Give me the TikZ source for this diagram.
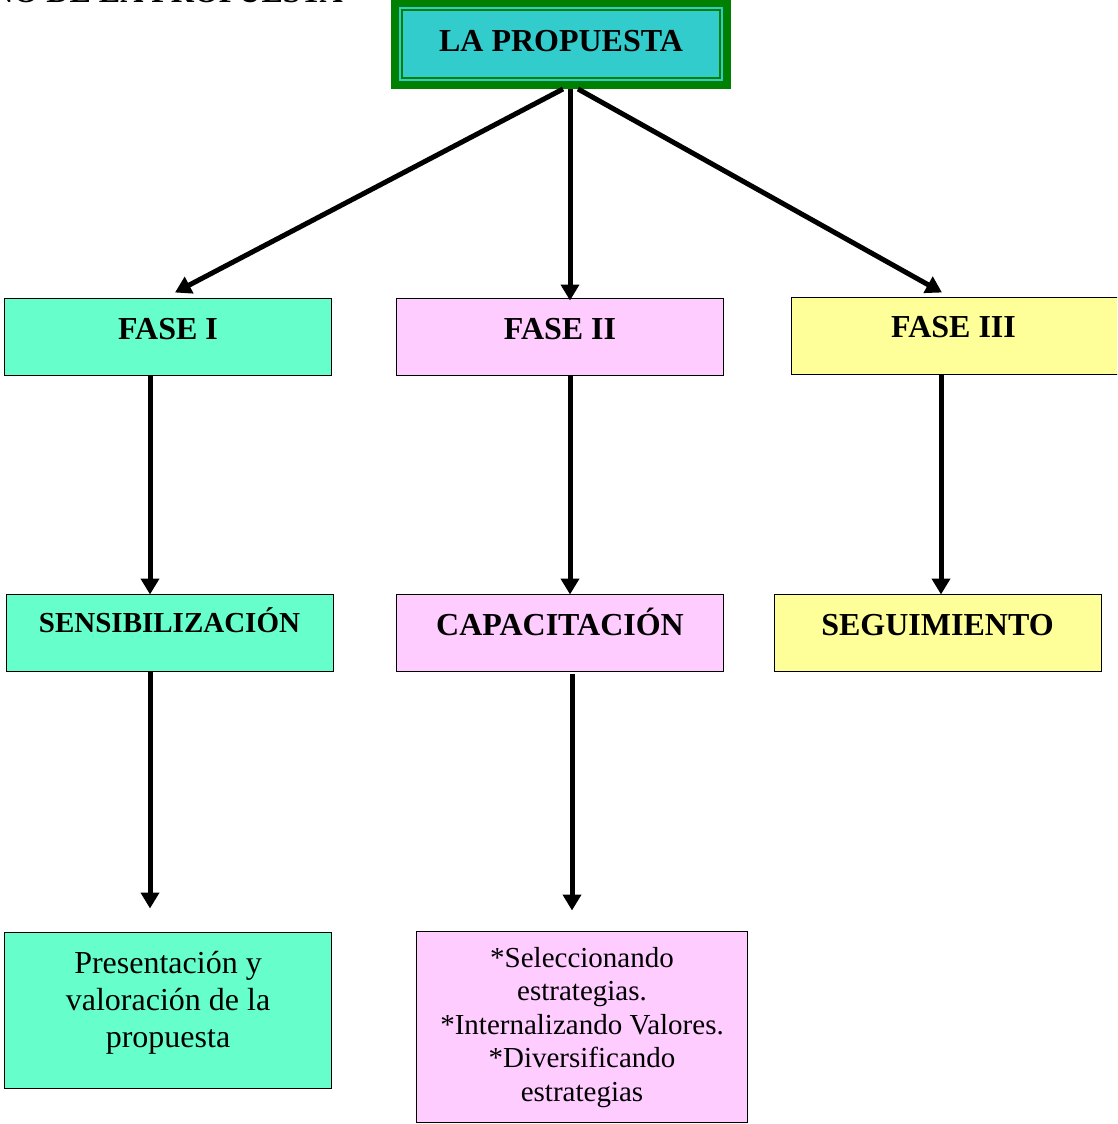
\documentclass[tikz,border=0pt]{standalone}
\usepackage{fontspec}
\setmainfont{Liberation Serif}
\usetikzlibrary{arrows.meta}
\definecolor{topcyan}{HTML}{33CCCC}
\definecolor{topgreen}{HTML}{008000}
\definecolor{mint}{HTML}{66FFCC}
\definecolor{pinkbox}{HTML}{FFCCFF}
\definecolor{yellowbox}{HTML}{FFFF99}
\tikzset{
  phasebox/.style={draw=black, line width=1.5pt, minimum width=327pt, minimum height=77pt, inner sep=0pt, outer sep=0pt},
  hdr/.style={font=\fontsize{32}{38}\selectfont\bfseries, inner sep=0pt, anchor=base},
  body/.style={inner sep=0pt, anchor=base, align=center},
  arr/.style={line width=5pt, -{Triangle[width=18pt,length=16pt]}},
}
\begin{document}
\begin{tikzpicture}[x=1pt,y=-1pt]
\clip (0,0) rectangle (1117,1124);
\useasboundingbox (0,0) rectangle (1117,1124);

% title (cut at top of page)
\node[hdr, anchor=base east] (title) at (343,3) {NO DE LA PROPUESTA};

% top box
\node[fill=topcyan, draw=topgreen, line width=8pt, minimum width=332pt, minimum height=81.5pt, inner sep=0pt, outer sep=0pt] (top) at (561,44.25) {};
\draw[topgreen, line width=2pt] ([shift={(7,7)}]top.north west) rectangle ([shift={(-7,-7)}]top.south east);
\node[hdr] (toptxt) at (561,52) {LA PROPUESTA};

% phase boxes
\node[phasebox, fill=mint] (f1) at (168,337) {};
\node[hdr] (f1t) at (168,339) {FASE I};
\node[phasebox, fill=pinkbox] (f2) at (560,337) {};
\node[hdr] (f2t) at (560,339) {FASE II};
\node[phasebox, fill=yellowbox] (f3) at (955,336) {};
\node[hdr] (f3t) at (953.5,337) {FASE III};

% second row
\node[phasebox, fill=mint] (s1) at (170,633) {};
\node[hdr, font=\fontsize{29}{35}\selectfont\bfseries] (s1t) at (169.5,632) {SENSIBILIZACIÓN};
\node[phasebox, fill=pinkbox] (s2) at (560,633) {};
\node[hdr] (s2t) at (560,635) {CAPACITACIÓN};
\node[phasebox, fill=yellowbox] (s3) at (938,633) {};
\node[hdr] (s3t) at (937.5,635) {SEGUIMIENTO};

% third row
\node[phasebox, fill=mint, minimum height=156pt] (p1) at (168,1010.5) {};
\node[body, font=\fontsize{32}{37}\selectfont] (p1t) at (168,1047) {Presentación y\\valoración de la\\propuesta};
\node[phasebox, fill=pinkbox, minimum width=331pt, minimum height=191pt] (p2) at (582,1027) {};
\node[body, font=\fontsize{29}{33.5}\selectfont] (p2t) at (582,1101) {*Seleccionando\\estrategias.\\*Internalizando Valores.\\*Diversificando\\estrategias};

% connectors
\draw[arr] ([xshift=2pt,yshift=-4pt]top.south) -- ([xshift=7pt,yshift=6pt]f1.north);
\draw[arr] ([xshift=9pt,yshift=-4pt]top.south) -- ([xshift=10pt,yshift=-2pt]f2.north);
\draw[arr] ([xshift=17pt,yshift=-4pt]top.south) -- ([xshift=-13pt,yshift=5pt]f3.north);

\draw[arr] ([xshift=-18pt]f1.south) -- ([xshift=-18pt]f1.south |- s1.north);
\draw[arr] ([xshift=10pt]f2.south) -- ([xshift=10pt]f2.south |- s2.north);
\draw[arr] ([xshift=-14pt]f3.south) -- ([xshift=-14pt]f3.south |- s3.north);

\draw[arr] ([xshift=-20pt]s1.south) -- ([xshift=-20pt,yshift=24pt]s1.south |- p1.north);
\draw[arr] ([xshift=12pt,yshift=-2pt]s2.south) -- ([xshift=12pt,yshift=21pt]s2.south |- p2.north);
\end{tikzpicture}
\end{document}
